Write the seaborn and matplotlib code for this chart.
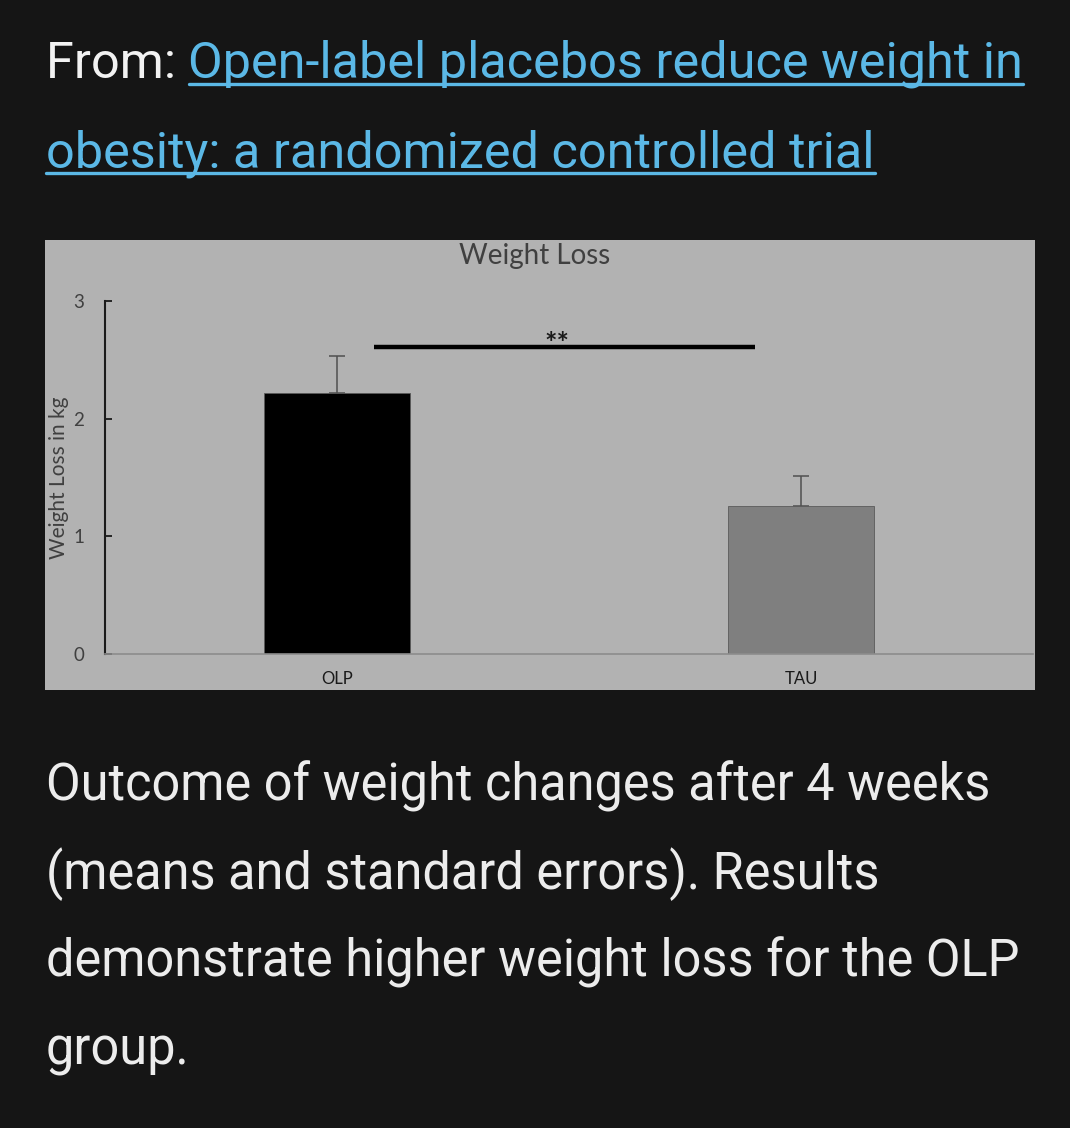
import matplotlib
matplotlib.use("Agg")
import matplotlib.pyplot as plt
import seaborn as sns
import pandas as pd
from matplotlib.lines import Line2D

# --- data ---
groups = ["OLP", "TAU"]
mean_loss = [2.22, 1.255]
std_err = [0.31, 0.26]
bar_colors = ["#000000", "#7f7f7f"]
y_ticks = [0, 1, 2, 3]

header_line1 = "Open-label placebos reduce weight in"
header_line2 = "obesity: a randomized controlled trial"
caption_lines = [
    "Outcome of weight changes after 4 weeks",
    "(means and standard errors). Results",
    "demonstrate higher weight loss for the OLP",
    "group.",
]

W, H = 1070, 1128
BG = "#151515"
LINK = "#5bb8e6"
TXT = "#ececec"

sns.set_theme(style="white")
plt.rcParams["font.family"] = ["Lato", "DejaVu Sans"]

fig = plt.figure(figsize=(W / 100, H / 100), dpi=100)
fig.patch.set_facecolor(BG)


def fx(px):
    return px / W


def fy(py):
    return 1 - py / H


# --- grey panel behind the chart ---
panel = fig.add_axes([fx(45), fy(690), fx(990), 450 / H])
panel.set_facecolor("#b2b2b2")
panel.set_xticks([])
panel.set_yticks([])
for s in panel.spines.values():
    s.set_visible(False)

ax = fig.add_axes([fx(105), fy(654), fx(928), 353 / H])
ax.set_facecolor("none")

df = pd.DataFrame({"group": groups, "loss": mean_loss})
sns.barplot(data=df, x="group", y="loss", hue="group", palette=bar_colors,
            width=0.313, edgecolor="#5a5a5a", linewidth=0.6, legend=False,
            errorbar=None, ax=ax, zorder=2)

# upper-only standard error bars at the bar centres
centers = [p.get_x() + p.get_width() / 2 for p in ax.patches]
ax.errorbar(centers, mean_loss, yerr=[[0] * len(std_err), std_err],
            fmt="none", ecolor="#505050", elinewidth=1.1, capsize=6,
            capthick=1.1, zorder=1)

# significance bar
ax.plot([0.08, 0.90], [2.61, 2.61], color="#000000", lw=3.2, solid_capstyle="butt",
        clip_on=False)
ax.text(0.473, 2.57, "**", ha="center", va="baseline", fontsize=21,
        fontweight="bold", color="#1a1a1a")

ax.set_xlim(-0.5, 1.5)
ax.set_ylim(0, 3)
ax.set_yticks(y_ticks)
ax.set_xlabel("")
ax.set_ylabel("Weight Loss in kg", fontsize=15, color="#404040")
ax.yaxis.set_label_coords(-0.039, 0.5)
ax.tick_params(axis="y", left=True, direction="in", length=5, width=1.3,
               color="#1a1a1a", pad=15, labelsize=13.5, labelcolor="#404040")
ax.tick_params(axis="x", bottom=False, length=0, pad=12, labelsize=12,
               labelcolor="#1a1a1a")

for side in ["top", "right"]:
    ax.spines[side].set_visible(False)
ax.spines["left"].set_color("#1a1a1a")
ax.spines["left"].set_linewidth(1.5)
ax.spines["bottom"].set_color("#8c8c8c")
ax.spines["bottom"].set_linewidth(1.2)

fig.text(fx(535), fy(264), "Weight Loss", ha="center", va="baseline",
         fontsize=20, color="#404040")

# --- header with link ---
hdr_font = dict(fontsize=36.3, family=["Roboto", "DejaVu Sans"], va="baseline")
t_from = fig.text(fx(46), fy(78), "From: ", color="#f2f2f2", **hdr_font)
fig.canvas.draw()
rend = fig.canvas.get_renderer()
x_link = t_from.get_window_extent(rend).x1 / W
t1 = fig.text(x_link, fy(78), header_line1, color=LINK, **hdr_font)
t2 = fig.text(fx(46), fy(167), header_line2, color=LINK, **hdr_font)
fig.canvas.draw()
for t, base in [(t1, 78), (t2, 167)]:
    bb = t.get_window_extent(rend)
    fig.add_artist(Line2D([bb.x0 / W, bb.x1 / W], [fy(base + 6)] * 2,
                          color=LINK, lw=2.4, transform=fig.transFigure))

# --- caption ---
for i, line in enumerate(caption_lines):
    fig.text(fx(46), fy(801 + 88 * i), line, color=TXT, fontsize=36.4,
             family=["Roboto", "DejaVu Sans"], va="baseline")

fig.savefig("out.png", dpi=100, facecolor=fig.get_facecolor())
plt.close(fig)
